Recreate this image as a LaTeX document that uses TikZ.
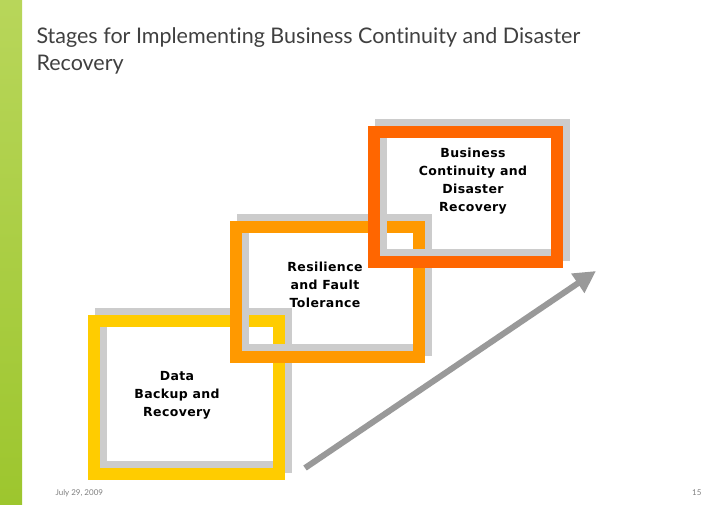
\documentclass[tikz,border=0pt]{standalone}
\usepackage{fontspec}
\setmainfont[Ligatures=NoCommon]{Lato}
\newfontfamily\boxfont[LetterSpace=3]{DejaVu Sans}
\usetikzlibrary{arrows.meta}
\definecolor{stageA}{HTML}{FFCC00}
\definecolor{stageB}{HTML}{FF9900}
\definecolor{stageC}{HTML}{FF6600}
\definecolor{shadowgray}{HTML}{CCCCCC}
\definecolor{barlight}{HTML}{B8D65A}
\definecolor{bardark}{HTML}{9DC62E}
\tikzset{
  frame/.style={line width=12pt},
  shadowframe/.style={frame, draw=shadowgray},
  stagelabel/.style={align=center, font=\boxfont\bfseries\fontsize{12.5}{18}\selectfont, text=black}
}
\begin{document}
\begin{tikzpicture}[x=1pt,y=-1pt]
  \useasboundingbox (0,0) rectangle (728,504);
  \fill[white] (0,0) rectangle (728,504);
  % side bar
  \shade[top color=barlight, bottom color=bardark] (0,0) rectangle (22,504);
  \node[anchor=north west, text=black!75, font=\fontsize{21.5}{27}\selectfont, align=left] (title) at (33,24)
    {Stages for Implementing Business Continuity and Disaster\\Recovery};

  % stage 1
  \draw[shadowframe] (101,314) rectangle (286,467);
  \draw[frame, stageA] (94,321) rectangle (279,474);
  % stage 2
  \draw[shadowframe] (243,220) rectangle (426,350);
  \draw[frame, stageB] (236,227) rectangle (419,357);
  % stage 3
  \draw[shadowframe] (381,125) rectangle (564,255);
  \draw[frame, stageC] (374,132) rectangle (557,262);

  \node[stagelabel] (data) at (177,395) {Data\\Backup and\\Recovery};
  \node[stagelabel] (resil) at (325,285) {Resilience\\and Fault\\Tolerance};
  \node[stagelabel] (bcdr) at (473,181) {Business\\Continuity and\\Disaster\\Recovery};

  \coordinate (arrowstart) at (305,468);
  \coordinate (arrowend) at (596,271);
  \draw[line width=6pt, draw=black!40, -{Triangle[length=22pt,width=22pt]}] (arrowstart) -- (arrowend);

  \node[anchor=west, text=black!50, font=\fontsize{8}{9}\selectfont] (date) at (52,493) {July 29, 2009};
  \node[anchor=east, text=black!50, font=\fontsize{8}{9}\selectfont] (page) at (705,493) {15};
\end{tikzpicture}
\end{document}
